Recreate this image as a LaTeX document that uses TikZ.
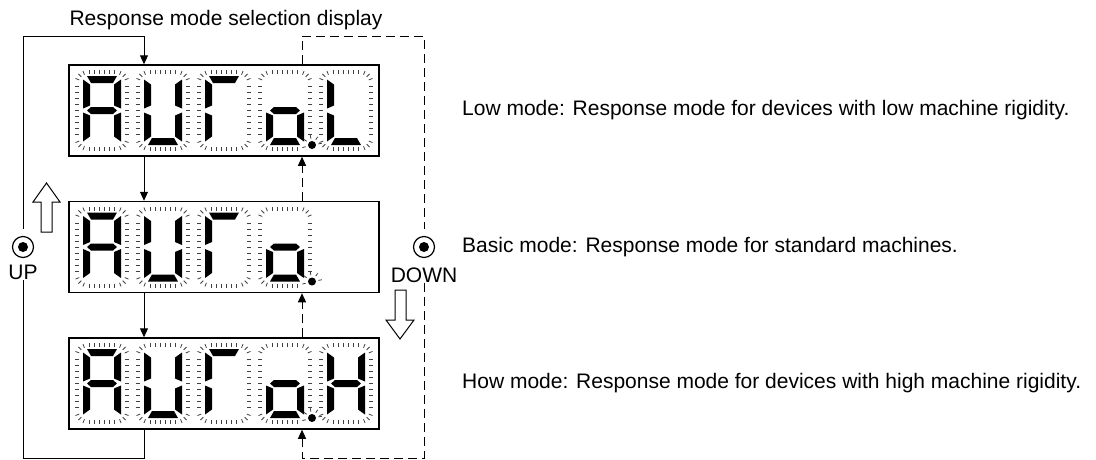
\documentclass[tikz,border=0pt]{standalone}
\usepackage{fontspec}
\setmainfont{Liberation Sans}
\usetikzlibrary{arrows.meta}

% segments of one character, centre at (0,0), y pointing down
\newcommand\ledsega{\fill (-15,-34.5) -- (15,-34.5) -- (11,-27.5) -- (-11,-27.5) -- cycle;}
\newcommand\ledsegd{\fill (-15,34.5) -- (15,34.5) -- (11,27.5) -- (-11,27.5) -- cycle;}
\newcommand\ledsegg{\fill (-15,0) -- (-11,-3.5) -- (11,-3.5) -- (15,0) -- (11,3.5) -- (-11,3.5) -- cycle;}
\newcommand\ledsegf{\fill (-19,-31) -- (-12,-26) -- (-12,-5) -- (-19,-2) -- cycle;}
\newcommand\ledsege{\fill (-19,31) -- (-12,26) -- (-12,5) -- (-19,2) -- cycle;}
\newcommand\ledsegb{\fill (19,-31) -- (12,-26) -- (12,-5) -- (19,-2) -- cycle;}
\newcommand\ledsegc{\fill (19,31) -- (12,26) -- (12,5) -- (19,2) -- cycle;}

% one blinking character: [corners]{x}{y}{segments}
\newcommand\ledchar[4][-14/-27/180,14/-27/270,14/27/0,-14/27/90]{%
  \begin{scope}[shift={(#2,#3)}]
    \foreach \t in {-12.5,-7.5,...,12.5} {
      \draw[ledtick] (\t,-36.5) -- (\t,-40.5);
      \draw[ledtick] (\t,36.5) -- (\t,40.5);
    }
    \foreach \t in {-24,-18,...,24} {
      \draw[ledtick] (-23,\t) -- (-27,\t);
      \draw[ledtick] (23,\t) -- (27,\t);
    }
    \foreach \cx/\cy/\b in {#1}
      \foreach \a in {22,45,68} {
        \pgfmathsetmacro\ang{\b+\a}
        \draw[ledtick] ([shift={(\cx,\cy)}]\ang:9.5) -- ([shift={(\cx,\cy)}]\ang:13.5);
      }
    \foreach \s in {#4} {\csname ledseg\s\endcsname}
  \end{scope}}

% decimal point with its rays
\newcommand\leddot[2]{%
  \begin{scope}[shift={(#1,#2)}]
    \fill (27,34.5) circle (4);
    \foreach \a in {165,215,260,305,350}
      \draw[ledtick] ([shift={(27,34.5)}]\a:6.5) -- ([shift={(27,34.5)}]\a:10);
  \end{scope}}

\begin{document}
\begin{tikzpicture}[x=1pt,y=-1pt,>={Triangle[length=9pt,width=8pt]},
  ledtick/.style={line width=0.8pt,black!75},
  display/.style={draw,line width=1.5pt,minimum width=310pt,minimum height=91pt,inner sep=0pt},
  button/.style={circle,draw,line width=1.2pt,minimum size=21pt,inner sep=0pt,outer sep=8pt},
  link/.style={line width=1pt},
  dlink/.style={line width=1pt,dash pattern=on 9pt off 5pt},
  hollow/.style={draw,line width=1pt,fill=white,line join=miter},
  lbl/.style={font=\fontsize{21}{25}\selectfont,inner sep=0pt}]
  \useasboundingbox (0,0) rectangle (1096,459);

  % the three displays
  \node[display] (d1) at (224,110.5) {};
  \node[display] (d2) at (224,247) {};
  \node[display] (d3) at (224,383.5) {};
  \foreach \y in {110.5,247,383.5} {
    \ledchar{102}{\y}{a,b,c,e,f,g}
    \ledchar{163}{\y}{b,c,d,e,f}
    \ledchar{224}{\y}{a,e,f}
    \ledchar[-14/-27/180,14/-27/270,-14/27/90]{285}{\y}{c,d,e,g}
    \leddot{285}{\y}
  }
  \ledchar{346}{110.5}{d,e,f}
  \ledchar{346}{383.5}{b,c,e,f,g}

  % buttons
  \node[button] (up) at (23,247) {};
  \fill (up) circle (5);
  \node[lbl] (uplbl) at (23,272) {UP};
  \node[button] (down) at (424,247) {};
  \fill (down) circle (5);
  \node[lbl] (downlbl) at (424,275) {DOWN};
  \draw[hollow] (46.5,183) -- (60,202) -- (52,202) -- (52,232) -- (41,232) -- (41,202) -- (33,202) -- cycle;
  \draw[hollow] (400,339) -- (414,320) -- (406,320) -- (406,290) -- (395,290) -- (395,320) -- (386,320) -- cycle;

  % texts
  \node[lbl] (title) at (226,20) {Response mode selection display};
  \node[lbl,anchor=west] (lowtxt) at (462,110.5) {Low mode: Response mode for devices with low machine rigidity.};
  \node[lbl,anchor=west] (basictxt) at (462,247) {Basic mode: Response mode for standard machines.};
  \node[lbl,anchor=west] (howtxt) at (462,383.5) {How mode: Response mode for devices with high machine rigidity.};

  % UP loop (solid)
  \coordinate (sx) at (144,0);
  \coordinate (ltop) at (23,36);
  \coordinate (lbot) at (23,458);
  \draw[link,->] (up.north) -- (ltop) -| (d1.north -| sx);
  \draw[link,->] (d1.south -| sx) -- (d2.north -| sx);
  \draw[link,->] (d2.south -| sx) -- (d3.north -| sx);
  \draw[link] (d3.south -| sx) |- (lbot) -- (uplbl.south);

  % DOWN loop (dashed)
  \coordinate (dx) at (302,0);
  \coordinate (rtop) at (424,36);
  \coordinate (rbot) at (424,458);
  \draw[dlink] (d1.north -| dx) |- (rtop) -- (down.north);
  \draw[dlink,->] (downlbl.south) -- (rbot) -| (d3.south -| dx);
  \draw[dlink,->] (d3.north -| dx) -- (d2.south -| dx);
  \draw[dlink,->] (d2.north -| dx) -- (d1.south -| dx);
\end{tikzpicture}
\end{document}
